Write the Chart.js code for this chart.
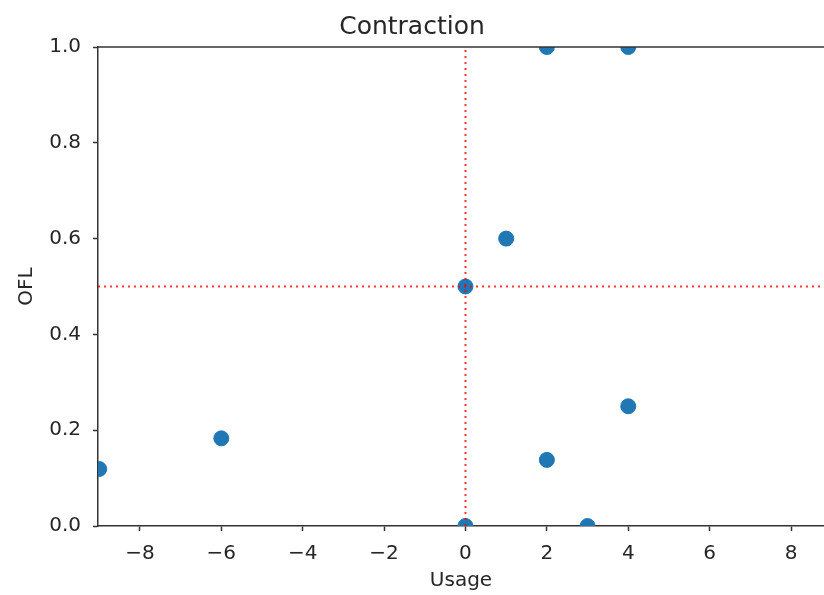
<!DOCTYPE html>
<html>
<head>
<meta charset="utf-8">
<script src="https://cdn.jsdelivr.net/npm/chart.js@4/dist/chart.umd.min.js"></script>
<style>
  html, body { margin: 0; padding: 0; background: #fff; }
  canvas { display: block; }
</style>
</head>
<body>
<canvas id="chart" width="824" height="595"></canvas>
<script>
'use strict';

// scatter values (Usage, OFL)
const usage = [-9, -6, 0, 0, 1, 2, 2, 3, 4, 4];
const ofl = [0.119, 0.183, 0.5, 0, 0.6, 1.0, 0.138, 0, 1.0, 0.25];

// reference lines
const ref_x = 0;
const ref_y = 0.5;

// axis limits and ticks
const x_min = -9.03;
const x_max = 8.81;
const y_min = 0;
const y_max = 1;
const x_ticks = [-8, -6, -4, -2, 0, 2, 4, 6, 8];
const y_ticks = [0, 0.2, 0.4, 0.6, 0.8, 1.0];

const font_family = "'DejaVu Sans', sans-serif";
const spine_colour = '#333';
const text_colour = '#262626';

// top spine (chart.js has no box border for scatter)
const top_spine = {
    id: 'top_spine',
    afterDraw(chart) {
        const {ctx, chartArea} = chart;
        ctx.save();
        ctx.strokeStyle = spine_colour;
        ctx.lineWidth = 1.5;
        ctx.beginPath();
        ctx.moveTo(chartArea.left, chartArea.top);
        ctx.lineTo(chartArea.right, chartArea.top);
        ctx.stroke();
        ctx.restore();
    }
};

const points = usage.map((u, i) => ({x: u, y: ofl[i]}));

const ref_line_style = {
    type: 'line',
    borderColor: 'rgba(255, 0, 0, 0.8)',
    borderWidth: 2,
    borderDash: [2, 4],
    pointRadius: 0,
    fill: false,
    clip: 0,
    order: 0
};

const config = {
    type: 'scatter',
    data: {
        datasets: [
            {
                label: 'OFL',
                data: points,
                backgroundColor: '#1f77b4',
                borderColor: '#1f77b4',
                pointRadius: 7.5,
                pointHoverRadius: 7.5,
                clip: 0,
                order: 1
            },
            Object.assign({
                label: 'vertical',
                data: [{x: ref_x, y: y_min}, {x: ref_x, y: y_max}]
            }, ref_line_style),
            Object.assign({
                label: 'horizontal',
                data: [{x: x_min, y: ref_y}, {x: x_max, y: ref_y}]
            }, ref_line_style)
        ]
    },
    plugins: [top_spine],
    options: {
        responsive: false,
        animation: false,
        layout: { padding: 0, autoPadding: false },
        plugins: {
            legend: { display: false },
            tooltip: { enabled: false },
            title: {
                display: true,
                text: 'Contraction',
                color: text_colour,
                font: { family: font_family, size: 25, weight: 'normal' },
                padding: { top: 12, bottom: 5 }
            }
        },
        scales: {
            x: {
                type: 'linear',
                min: x_min,
                max: x_max,
                afterBuildTicks: scale => {
                    scale.ticks = x_ticks.map(v => ({value: v}));
                },
                afterFit: scale => {
                    scale.height = 69;
                    scale.paddingLeft = 0;
                    scale.paddingRight = 0;
                },
                grid: {
                    drawOnChartArea: false,
                    drawTicks: true,
                    tickLength: 5,
                    tickWidth: 1.5,
                    tickColor: spine_colour
                },
                border: { display: true, color: spine_colour, width: 1.5 },
                ticks: {
                    color: text_colour,
                    padding: 11,
                    font: { family: font_family, size: 20 },
                    callback: v => (v < 0 ? '\u2212' + Math.abs(v) : String(v))
                },
                title: {
                    display: true,
                    text: 'Usage',
                    color: text_colour,
                    font: { family: font_family, size: 20 },
                    padding: { top: 0, bottom: 2 }
                }
            },
            y: {
                type: 'linear',
                min: y_min,
                max: y_max,
                afterBuildTicks: scale => {
                    scale.ticks = y_ticks.map(v => ({value: v}));
                },
                afterFit: scale => {
                    scale.width = 98;
                    scale.paddingTop = 0;
                    scale.paddingBottom = 0;
                },
                grid: {
                    drawOnChartArea: false,
                    drawTicks: true,
                    tickLength: 5,
                    tickWidth: 1.5,
                    tickColor: spine_colour
                },
                border: { display: true, color: spine_colour, width: 1.5 },
                ticks: {
                    color: text_colour,
                    padding: 12,
                    font: { family: font_family, size: 20 },
                    callback: v => v.toFixed(1)
                },
                title: {
                    display: true,
                    text: 'OFL',
                    color: text_colour,
                    font: { family: font_family, size: 20 },
                    padding: { top: 15, bottom: 0 }
                }
            }
        }
    }
};

new Chart(document.getElementById('chart'), config);
</script>
</body>
</html>
